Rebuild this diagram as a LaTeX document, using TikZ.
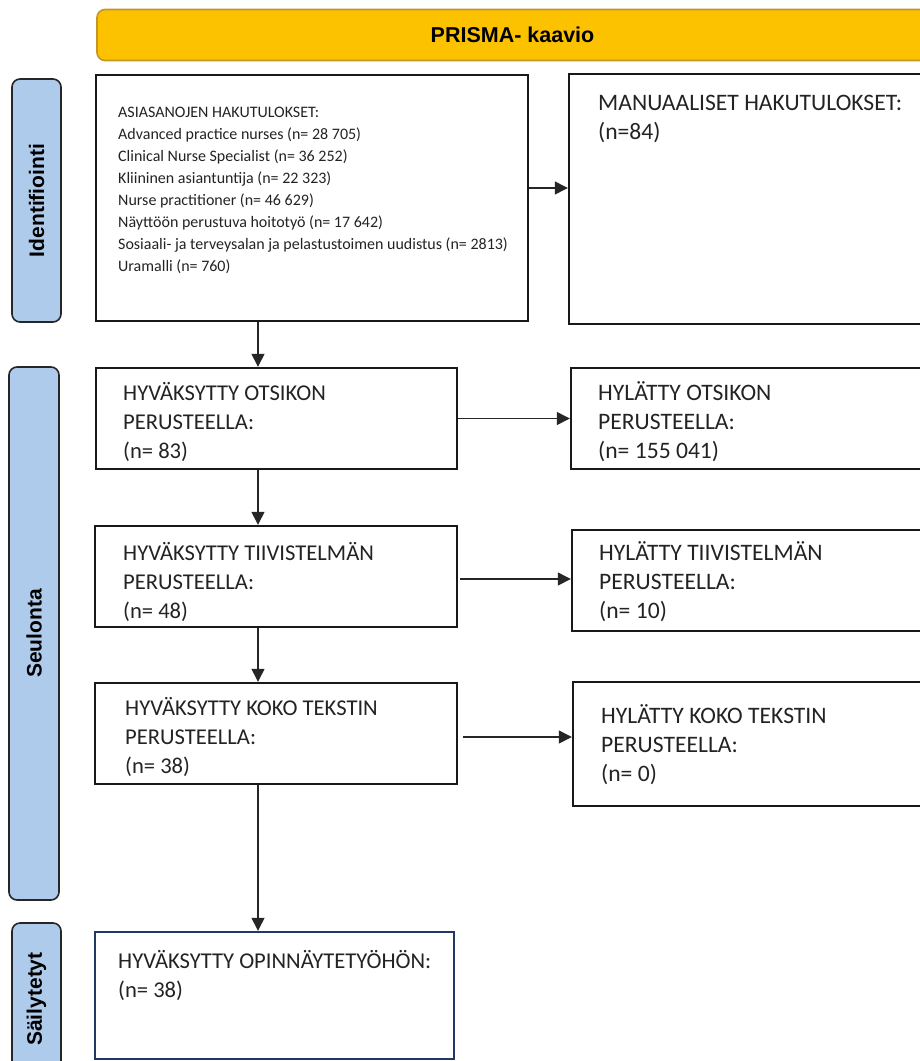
\documentclass[tikz,border=0pt]{standalone}
\usepackage{fontspec}
\usepackage{graphicx}
\setmainfont{Carlito}
\newfontfamily\headfont{Liberation Sans}
\usetikzlibrary{arrows.meta,calc}

\definecolor{bannerfill}{RGB}{252,194,0}
\definecolor{bannerline}{RGB}{196,150,40}
\definecolor{stagefill}{RGB}{174,203,235}
\definecolor{stageline}{RGB}{38,38,38}
\definecolor{boxline}{RGB}{25,25,25}
\definecolor{navyline}{RGB}{31,56,100}
\definecolor{txtcol}{RGB}{35,35,35}

\tikzset{
  box/.style={draw=boxline, line width=2.4pt, rectangle, inner sep=0pt},
  stage/.style={draw=stageline, fill=stagefill, line width=1.6pt, rounded corners=8pt,
                inner sep=0pt, font=\headfont\bfseries\fontsize{21}{24}\selectfont},
  banner/.style={draw=bannerline, fill=bannerfill, line width=1.6pt, rounded corners=8pt,
                 inner sep=0pt, font=\headfont\bfseries\fontsize{21.5}{24}\selectfont},
  smalltxt/.style={anchor=north west, inner sep=0pt, align=left, text=txtcol,
                   font=\fontsize{16}{22}\selectfont},
  lefttxt/.style={anchor=north west, inner sep=0pt, align=left, text=txtcol,
                  font=\fontsize{22.6}{29}\selectfont},
  righttxt/.style={anchor=north west, inner sep=0pt, align=left, text=txtcol,
                   font=\fontsize{23.6}{29}\selectfont},
  arr/.style={draw=black!85, line width=1.3pt, -{Triangle[length=13pt,width=13pt]}},
}

\begin{document}
\begin{tikzpicture}[x=1pt,y=-1pt]
\useasboundingbox (0,0) rectangle (920,1061);
\clip (0,0) rectangle (920,1061);

% title banner
\node[banner, minimum width=831, minimum height=51] (title) at (512.5,35) {PRISMA- kaavio};

% stage bars on the left
\node[stage, minimum width=49, minimum height=243] (stageid) at (36.5,200.5) {\rotatebox{90}{Identifiointi}};
\node[stage, minimum width=50, minimum height=533] (stagese) at (34,633.5) {\rotatebox{90}{Seulonta}};
\node[stage, minimum width=49, minimum height=152] (stagesa) at (36.5,999) {\rotatebox{90}{Säilytetyt}};

% flow boxes
\node[box, minimum width=432, minimum height=246] (a)  at (312,198) {};
\node[box, minimum width=359, minimum height=250] (m)  at (748.5,199) {};
\node[box, minimum width=361, minimum height=101] (o)  at (276.5,418.5) {};
\node[box, minimum width=357, minimum height=101] (ro) at (749.5,418.5) {};
\node[box, minimum width=362, minimum height=101] (t)  at (276,576.5) {};
\node[box, minimum width=356, minimum height=101] (rt) at (750,580.5) {};
\node[box, minimum width=362, minimum height=101] (k)  at (276,733.5) {};
\node[box, minimum width=355, minimum height=124] (rk) at (750.5,744) {};
\node[box, draw=navyline, minimum width=359, minimum height=127] (f) at (274.5,995.5) {};

% box texts
\node[smalltxt] (atxt) at (118,101.5) {\strut ASIASANOJEN HAKUTULOKSET:\\
  Advanced practice nurses (n= 28 705)\\
  Clinical Nurse Specialist (n= 36 252)\\
  Kliininen asiantuntija (n= 22 323)\\
  Nurse practitioner (n= 46 629)\\
  Näyttöön perustuva hoitotyö (n= 17 642)\\
  Sosiaali- ja terveysalan ja pelastustoimen uudistus (n= 2813)\\
  Uramalli (n= 760)};
\node[righttxt] (mtxt)  at (598,90)  {\strut MANUAALISET HAKUTULOKSET:\\ (n=84)};
\node[lefttxt]  (otxt)  at (123,380) {\strut HYVÄKSYTTY OTSIKON\\ PERUSTEELLA:\\ (n= 83)};
\node[righttxt] (rotxt) at (598,380) {\strut HYLÄTTY OTSIKON\\ PERUSTEELLA:\\ (n= 155 041)};
\node[lefttxt]  (ttxt)  at (123,540) {\strut HYVÄKSYTTY TIIVISTELMÄN\\ PERUSTEELLA:\\ (n= 48)};
\node[righttxt] (rttxt) at (599,540) {\strut HYLÄTTY TIIVISTELMÄN\\ PERUSTEELLA:\\ (n= 10)};
\node[lefttxt]  (ktxt)  at (125,695) {\strut HYVÄKSYTTY KOKO TEKSTIN\\ PERUSTEELLA:\\ (n= 38)};
\node[righttxt] (rktxt) at (601,703) {\strut HYLÄTTY KOKO TEKSTIN\\ PERUSTEELLA:\\ (n= 0)};
\node[lefttxt]  (ftxt)  at (118,948) {\strut HYVÄKSYTTY OPINNÄYTETYÖHÖN:\\ (n= 38)};

% connectors
\coordinate (spine) at (258,0);
\coordinate (amrow) at (0,188);
\coordinate (trow) at (460,579);
\coordinate (krow) at (463,737);

\draw[arr] (a.east |- amrow) -- (m.west |- amrow);
\draw[arr] (spine |- a.south) -- (spine |- o.north);
\draw[arr] (o.east) -- (ro.west |- o.east);
\draw[arr] (spine |- o.south) -- (spine |- t.north);
\draw[arr] (trow) -- (rt.west |- trow);
\draw[arr] (spine |- t.south) -- (spine |- k.north);
\draw[arr] (krow) -- (rk.west |- krow);
\draw[arr] (spine |- k.south) -- (spine |- f.north);
\end{tikzpicture}
\end{document}
